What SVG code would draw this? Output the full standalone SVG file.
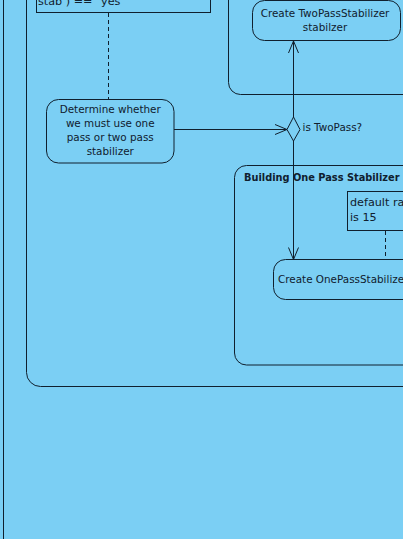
<svg xmlns="http://www.w3.org/2000/svg" width="403" height="539" viewBox="0 0 403 539">
<style>
.ln{fill:none;stroke:#10202e;stroke-width:1}
.box{fill:#7bcff4;stroke:#10202e;stroke-width:1}
.t{font-family:"DejaVu Sans",sans-serif;font-size:10.4px;fill:#10202e}
.n{font-family:"DejaVu Sans",sans-serif;font-size:11.2px;fill:#10202e}
.b{font-family:"DejaVu Sans",sans-serif;font-size:9.8px;font-weight:bold;fill:#10202e}
.dash{fill:none;stroke:#10202e;stroke-width:1;stroke-dasharray:4,3}
</style>
<defs>
<marker id="open" markerUnits="userSpaceOnUse" markerWidth="16" markerHeight="14" viewBox="-14 -7 16 14" refX="0" refY="0" orient="auto">
<path d="M-12,-5 L0,0 L-12,5" fill="none" stroke="#10202e" stroke-width="1"/>
</marker>
</defs>
<rect x="0" y="0" width="403" height="539" fill="#7bcff4"/>
<g id="frame">
<rect class="ln" x="3.5" y="-30" width="500" height="600"/>
</g>
<g id="container-main">
<rect class="ln" x="26.5" y="-50" width="420" height="436.5" rx="14"/>
</g>
<g id="container-twopass">
<rect class="ln" x="228.5" y="-50" width="250" height="144.5" rx="12"/>
</g>
<g id="container-onepass">
<rect class="ln" x="234.5" y="165.5" width="250" height="199.5" rx="12"/>
<text class="b" x="244" y="181">Building One Pass Stabilizer</text>
</g>
<g id="note-yes">
<rect class="box" x="36.5" y="-20" width="174" height="32.5"/>
<text class="n" x="38" y="5">stab ) == "yes"</text>
</g>
<g id="note-default">
<rect class="box" x="347.5" y="191.5" width="80" height="39"/>
<text class="n" x="350" y="206">default ra</text>
<text class="n" x="350" y="221">is 15</text>
</g>
<g id="connectors">
<line class="dash" x1="108.5" y1="13" x2="108.5" y2="99"/>
<line class="dash" x1="385.5" y1="231" x2="385.5" y2="259"/>
<line class="ln" x1="174" y1="129.5" x2="287" y2="129.5" marker-end="url(#open)"/>
<line class="ln" x1="293.5" y1="117" x2="293.5" y2="41" marker-end="url(#open)"/>
<line class="ln" x1="293.5" y1="141" x2="293.5" y2="259.5" marker-end="url(#open)"/>
</g>
<g id="node-determine">
<rect class="box" x="46.5" y="99.5" width="127.5" height="63.5" rx="12"/>
<text class="t" x="110.25" y="113" text-anchor="middle">Determine whether</text>
<text class="t" x="110.25" y="127" text-anchor="middle">we must use one</text>
<text class="t" x="110.25" y="141" text-anchor="middle">pass or two pass</text>
<text class="t" x="110.25" y="155" text-anchor="middle">stabilizer</text>
</g>
<g id="node-twopass">
<rect class="box" x="252.5" y="0.5" width="148" height="40" rx="12"/>
<text class="t" x="325" y="17" text-anchor="middle">Create TwoPassStabilizer</text>
<text class="t" x="325" y="31" text-anchor="middle">stabilzer</text>
</g>
<g id="decision">
<polygon class="box" points="293.5,117 300,129.5 293.5,141 287,129.5"/>
<text class="t" x="302.5" y="130.5">is TwoPass?</text>
</g>
<g id="node-onepass">
<rect class="box" x="273.5" y="259.5" width="200" height="40" rx="12"/>
<text class="t" x="278" y="283">Create OnePassStabilize</text>
</g>
</svg>
